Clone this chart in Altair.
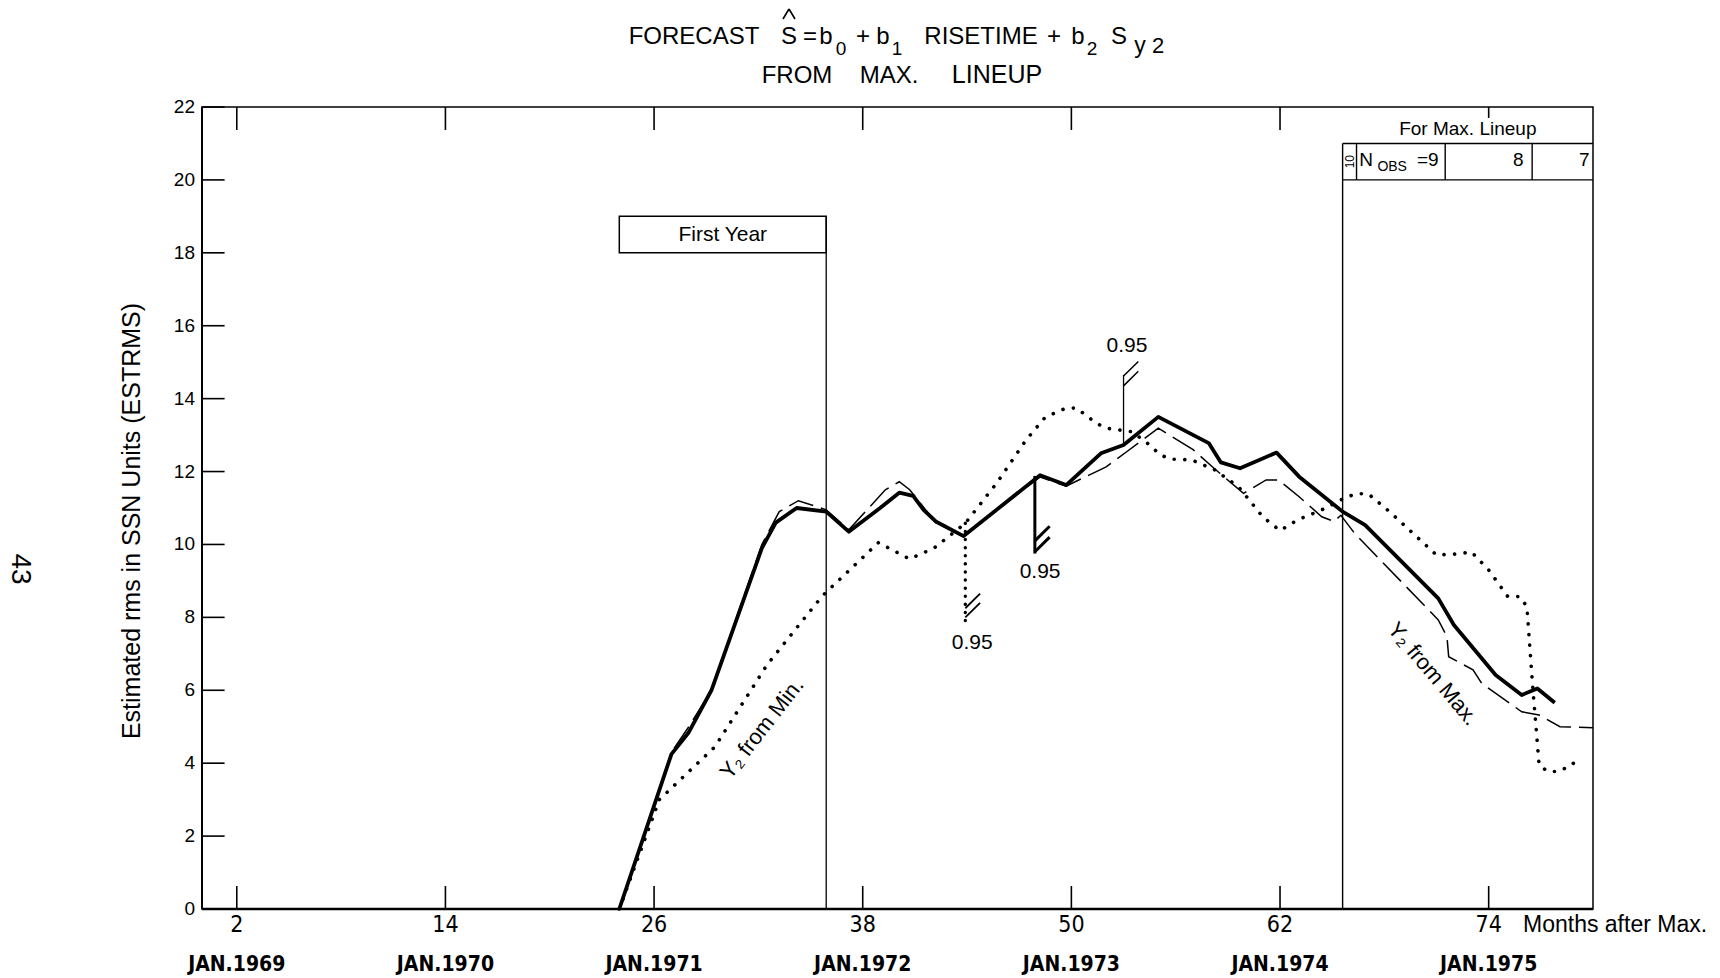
import altair as alt
import pandas as pd

# ---------------- data ----------------
# axis ticks (months after sunspot maximum) and calendar labels under them
tick_months = [2, 14, 26, 38, 50, 62, 74]
tick_labels = ["2", "14", "26", "38", "50", "62", "74"]
year_labels = ["JAN.1969", "JAN.1970", "JAN.1971", "JAN.1972", "JAN.1973", "JAN.1974", "JAN.1975"]
y_ticks = [0, 2, 4, 6, 8, 10, 12, 14, 16, 18, 20, 22]

# forecast from max. lineup (heavy solid curve)
solid_month = [24, 27, 28, 29.3, 32.2, 33, 34.2, 35.9, 37.2, 39, 40.1, 40.9, 41.5, 42.2,
               43.8, 48.2, 49.7, 51.7, 53.0, 55.0, 57.9, 58.6, 59.7, 61.8, 63.1, 65.6,
               66.9, 71.1, 72.0, 74.4, 75.9, 76.8, 77.8]
solid_rms = [0, 4.25, 4.85, 6.0, 9.9, 10.6, 11.0, 10.9, 10.35, 11.0, 11.42, 11.33, 10.95, 10.63,
             10.23, 11.9, 11.63, 12.5, 12.73, 13.5, 12.78, 12.25, 12.09, 12.52, 11.86, 10.9,
             10.53, 8.52, 7.79, 6.42, 5.87, 6.05, 5.66]

# Y2 from Max. (long dashes)
dash_month = [24, 27, 28, 29.3, 32.2, 33.2, 34.3, 35.9, 37.2, 39.3, 40.1, 40.7, 42.2, 43.8,
              48.2, 49.7, 52.0, 53.2, 55.0, 57.0, 58.2, 59.9, 61.2, 61.9, 63.1, 64.4, 65.1,
              65.5, 66.3, 71.1, 71.6, 71.7, 73.1, 73.6, 75.9, 76.9, 78.1, 80]
dash_rms = [0, 4.3, 5.0, 6.0, 10.0, 10.9, 11.2, 10.95, 10.4, 11.5, 11.72, 11.5, 10.6, 10.25,
            11.85, 11.6, 12.13, 12.55, 13.19, 12.6, 12.09, 11.4, 11.77, 11.77, 11.31, 10.76, 10.63,
            10.8, 10.3, 7.93, 7.47, 6.92, 6.56, 6.19, 5.41, 5.32, 5.0, 4.97]

# Y2 from Min. (dotted)
dot_month = [24, 26.3, 29.5, 32.5, 35.7, 38.9, 40.7, 42.1, 43.9, 45.7, 47.4, 48.5, 49.7, 50.3,
             51.45, 52.0, 53.5, 54.5, 55.1, 55.7, 56.9, 58.2, 59.6, 61.0, 62.0, 63.0, 64.5, 65.7,
             66.4, 67.1, 68.3, 71.0, 72.3, 73.0, 74.0, 75.1, 75.8, 76.2, 76.5, 76.9, 77.4, 78.0,
             78.8, 79.2]
dot_rms = [0, 3.0, 4.45, 6.7, 8.6, 10.05, 9.6, 9.9, 10.58, 11.68, 12.87, 13.49, 13.74, 13.74,
           13.32, 13.19, 13.09, 12.73, 12.46, 12.34, 12.32, 12.06, 11.59, 10.76, 10.38, 10.67, 10.97, 11.27,
           11.4, 11.38, 10.9, 9.71, 9.74, 9.8, 9.3, 8.57, 8.57, 8.29, 6.3, 3.95, 3.77, 3.77,
           3.95, 4.22]

# 0.95 confidence markers: month, value on the curve, end of the bar, slash bases, label spot
conf_month = [43.9, 47.9, 53.0]
conf_from = [10.58, 11.88, 12.7]
conf_to = [7.85, 9.75, 14.65]
conf_slash_base = [[8.0, 8.25], [9.8, 10.1], [14.35, 14.62]]
conf_label_month = [44.3, 48.2, 53.2]
conf_label_rms = [7.3, 9.25, 15.45]
conf_text = "0.95"

# "First Year" box (months) and the max-lineup table (months / N_OBS)
first_year = [24, 35.9]
lineup_start = 65.6
lineup_cols = [66.4, 71.5, 76.5]
nobs_counts = ["9", "8", "7"]

# ---------------- styling ----------------
SANS = "Liberation Sans, Arial, Helvetica, sans-serif"
NARROW = "Liberation Sans Narrow, Arial Narrow, DejaVu Sans Condensed, Liberation Sans, sans-serif"
XS = alt.Scale(domain=[0, 80], nice=False, zero=False)
YS = alt.Scale(domain=[0, 22], nice=False, zero=False)
W, H = 1391, 802


def xq(f):
    return alt.X(f, type="quantitative", scale=XS, axis=None)


def yq(f):
    return alt.Y(f, type="quantitative", scale=YS, axis=None)


def label(txt, px, py, size, font=SANS, align="center", baseline="alphabetic", angle=0, weight="normal"):
    kw = dict(align=align, baseline=baseline, fontSize=size, font=font, color="black", fontWeight=weight)
    if angle:
        kw["angle"] = angle
    return alt.Chart(pd.DataFrame({"t": [txt]})).mark_text(**kw).encode(
        x=alt.value(px), y=alt.value(py), text="t:N")


def note(txt, m, v, size, font=SANS, align="center", angle=0, baseline="middle"):
    kw = dict(align=align, baseline=baseline, fontSize=size, font=font, color="black")
    if angle:
        kw["angle"] = angle
    return alt.Chart(pd.DataFrame({"m": [m], "v": [v], "t": [txt]})).mark_text(**kw).encode(
        x=xq("m"), y=yq("v"), text="t:N")


def segs(rows, width=1.4, **extra):
    df = pd.DataFrame(rows, columns=["m", "v", "m2", "v2"])
    return alt.Chart(df).mark_rule(color="black", strokeWidth=width, **extra).encode(
        x=xq("m"), y=yq("v"), x2="m2:Q", y2="v2:Q")


def stroke_px(x1, y1, x2, y2, width=1.6):
    # a short pen stroke given in pixels relative to the plot origin
    return alt.Chart(pd.DataFrame({"k": [0]})).mark_rule(color="black", strokeWidth=width).encode(
        x=alt.value(x1), y=alt.value(y1), x2=alt.value(x2), y2=alt.value(y2))


layers = []

# heavier bottom / left frame edges
layers.append(segs([[0, 0, 80, 0]], width=2.6))
layers.append(segs([[0, 0, 0, 22]], width=2.0))

# inward ticks on bottom, top and left edges (the top one at 74 is kept short above the table)
tick_rows = [[m, 0, m, 0.63] for m in tick_months]
tick_rows += [[m, 22, m, 21.37 if m < 70 else 21.7] for m in tick_months]
tick_rows += [[0, v, 1.3, v] for v in y_ticks]
layers.append(segs(tick_rows, width=1.6))

# x labels: months, then calendar row
layers.append(alt.Chart(pd.DataFrame({"m": tick_months, "t": tick_labels})).mark_text(
    font=NARROW, fontSize=23, baseline="middle", color="black").encode(
    x=xq("m"), y=alt.value(818), text="t:N"))
layers.append(alt.Chart(pd.DataFrame({"m": tick_months, "t": year_labels})).mark_text(
    font=NARROW, fontSize=21, fontWeight="bold", baseline="middle", color="black").encode(
    x=xq("m"), y=alt.value(858), text="t:N"))
layers.append(label("Months after Max.", 1321, 818, 23, align="left", baseline="middle"))

# y labels and title
layers.append(alt.Chart(pd.DataFrame({"v": y_ticks, "t": [str(v) for v in y_ticks]})).mark_text(
    font=SANS, fontSize=19, align="right", baseline="middle", color="black").encode(
    x=alt.value(-7), y=yq("v"), text="t:N"))
layers.append(label("Estimated   rms   in   SSN   Units   (ESTRMS)", -70, 414, 25,
                    baseline="middle", angle=270))

# page number in the margin
layers.append(label("43", -182, 462, 28, baseline="middle", angle=90))

# title, line 1 with subscripts, line 2
T1, TS = -63, -52
title_parts = [
    ("FORECAST", 492, T1, 24), ("S", 587, T1, 24), ("=", 608, T1, 24),
    ("b", 624, T1, 24), ("0", 639, TS, 19), ("+", 661, T1, 24),
    ("b", 681, T1, 24), ("1", 695, TS, 19), ("RISETIME", 779, T1, 24), ("+", 852, T1, 24),
    ("b", 876, T1, 24), ("2", 890, TS, 19), ("S", 917, T1, 24), ("y", 938, -54, 23), ("2", 956, -54, 22),
    ("FROM", 595, -24, 24), ("MAX.", 687, -24, 24), ("LINEUP", 795, -24, 25),
]
for t, px, py, fs in title_parts:
    layers.append(label(t, px, py, fs))
# circumflex over the S (estimate sign)
layers.append(stroke_px(581, -88, 587, -98))
layers.append(stroke_px(587, -98, 593, -88))

# "First Year" box and its closing vertical
layers.append(alt.Chart(pd.DataFrame({"m": [first_year[0]], "m2": [first_year[1]], "v": [18], "v2": [19]}))
              .mark_rect(fill="white", stroke="black", strokeWidth=1.5)
              .encode(x=xq("m"), x2="m2:Q", y=yq("v"), y2="v2:Q"))
layers.append(segs([[first_year[1], 0, first_year[1], 19]], width=1.3))
layers.append(note("First Year", sum(first_year) / 2, 18.5, 21))

# max-lineup table
table_rows = [[lineup_start, 0, lineup_start, 21], [lineup_start, 21, 80, 21], [lineup_start, 20, 80, 20]]
table_rows += [[c, 20, c, 21] for c in lineup_cols]
layers.append(segs(table_rows, width=1.4))
layers.append(note("For Max. Lineup", 72.8, 21.4, 19))
layers.append(note("10", 66.0, 20.5, 12, angle=270))
layers.append(note("N", 66.95, 20.55, 19))
layers.append(note("OBS", 68.45, 20.35, 14))
layers.append(note("=" + nobs_counts[0], 70.5, 20.55, 19))
layers.append(note(nobs_counts[1], 75.7, 20.55, 19))
layers.append(note(nobs_counts[2], 79.5, 20.55, 19))


def series(ms, vs):
    return pd.DataFrame({"m": ms, "v": vs, "i": list(range(len(ms)))})


# curves
layers.append(alt.Chart(series(dot_month, dot_rms)).mark_line(
    color="black", strokeWidth=3.6, strokeDash=[0.1, 10.5], strokeCap="round").encode(
    x=xq("m"), y=yq("v"), order="i:Q"))
layers.append(alt.Chart(series(dash_month, dash_rms)).mark_line(
    color="black", strokeWidth=1.5, strokeDash=[26, 8]).encode(
    x=xq("m"), y=yq("v"), order="i:Q"))
layers.append(alt.Chart(series(solid_month, solid_rms)).mark_line(
    color="black", strokeWidth=3.8, strokeJoin="round").encode(
    x=xq("m"), y=yq("v"), order="i:Q"))

# 0.95 markers: dotted, heavy and thin bars with double slashes
layers.append(segs([[conf_month[0], conf_from[0], conf_month[0], conf_to[0]]], width=3.4,
                   strokeDash=[0.1, 8], strokeCap="round"))
layers.append(segs([[conf_month[1], conf_from[1], conf_month[1], conf_to[1]]], width=3.0))
layers.append(segs([[conf_month[2], conf_from[2], conf_month[2], conf_to[2]]], width=1.3))
slash_w = [1.8, 3.0, 1.5]
for k in range(3):
    rows = [[conf_month[k], b, conf_month[k] + 0.85, b + 0.4] for b in conf_slash_base[k]]
    layers.append(segs(rows, width=slash_w[k]))
    layers.append(note(conf_text, conf_label_month[k], conf_label_rms[k], 21))

# curve labels
layers.append(note("Y₂ from Min.", 32.2, 4.95, 22, angle=308))
layers.append(note("Y₂ from Max.", 70.8, 6.45, 22, angle=50))

chart = alt.layer(*layers).properties(
    width=W, height=H,
    padding={"left": 202, "top": 107, "right": 127, "bottom": 69},
    autosize=alt.AutoSizeParams(type="none"),
    background="white",
).configure_view(stroke="black", strokeWidth=1.5)

chart.save("out.html", embed_options={"renderer": "svg", "actions": False})
